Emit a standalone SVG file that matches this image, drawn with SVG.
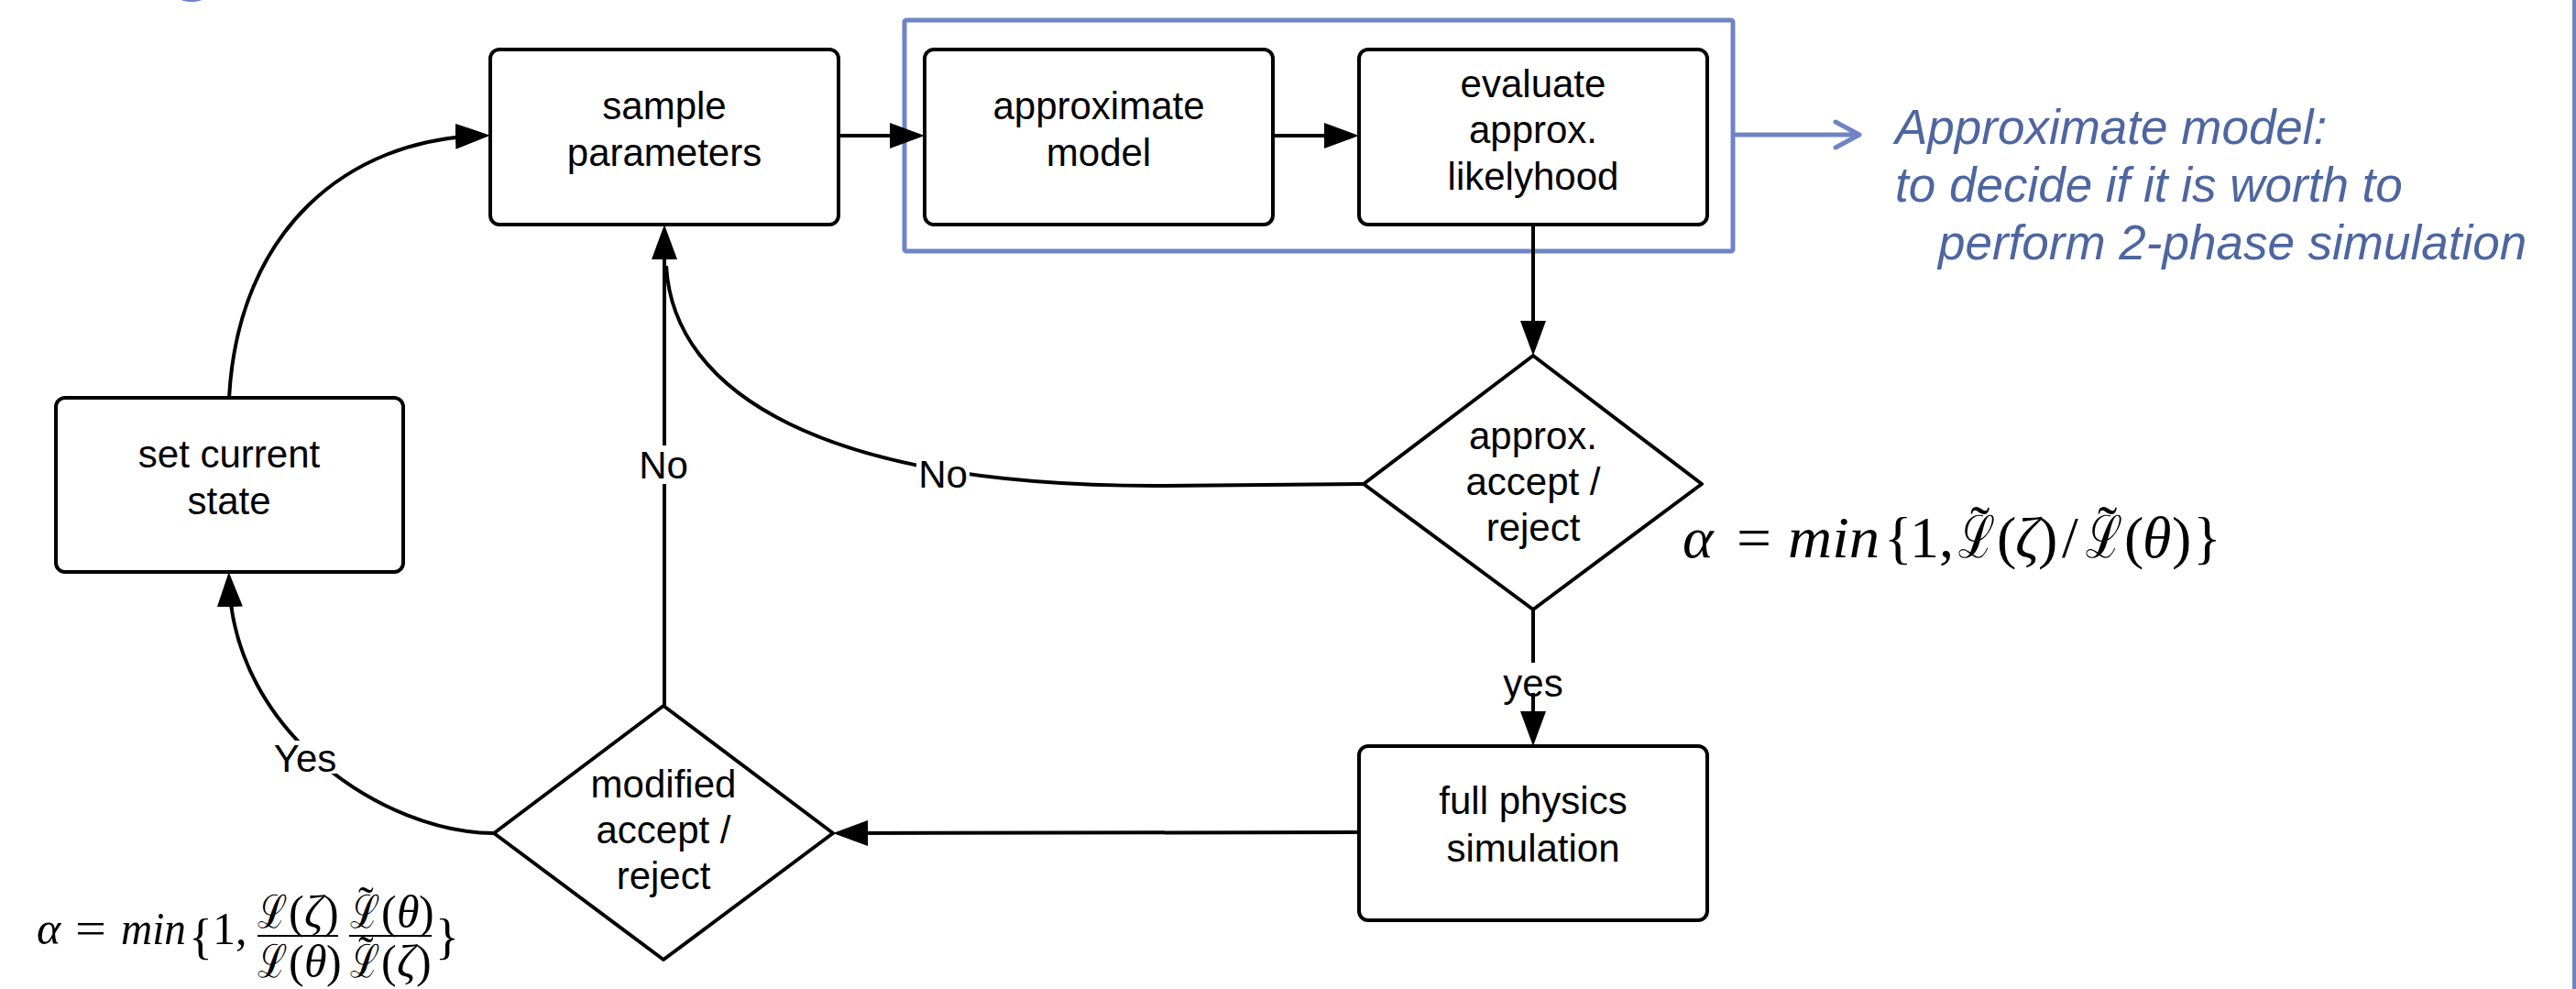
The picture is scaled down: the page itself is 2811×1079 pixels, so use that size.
<svg xmlns="http://www.w3.org/2000/svg" width="2811" height="1079" viewBox="0 0 2811 1079">
<style>
.box{fill:#fff;stroke:#000;stroke-width:4;stroke-linejoin:round}
.lbl{font-family:"Liberation Sans",Arial,sans-serif;font-size:42px;fill:#000;text-anchor:middle}
.con{fill:none;stroke:#000;stroke-width:4}
.blue{fill:none;stroke:#7084c4;stroke-width:5;stroke-linecap:round;stroke-linejoin:round}
.btxt{font-family:"Liberation Sans",Arial,sans-serif;font-size:53px;font-style:italic;fill:#4e66a0}
.math{font-family:"Liberation Serif","Times New Roman",serif;fill:#000}
.it{font-style:italic}
.cal{font-family:"DejaVu Serif","Noto Sans",serif}
.bg{fill:#fff}
</style>
<defs>
<marker id="ah" viewBox="0 0 38 28" refX="28" refY="14" markerWidth="38" markerHeight="28" markerUnits="userSpaceOnUse" orient="auto">
<path d="M0,0 L38,14 L0,28 z" fill="#000"/>
</marker>
</defs>
<rect width="2811" height="1079" fill="#fff"/>
<ellipse cx="209" cy="-1" rx="12" ry="3" fill="#7084c4"/>
<line x1="2809" y1="0" x2="2809" y2="1079" stroke="#7084c4" stroke-width="4"/>

<g id="approx-group">
<rect x="987" y="22" width="904" height="252" rx="2" class="blue"/>
<path d="M1893,147 L2027,147 M2003,133 L2029,147 L2003,161" class="blue"/>
<text class="btxt"><tspan x="2068" y="157">Approximate model:</tspan><tspan x="2068" y="220">to decide if it is worth to</tspan><tspan x="2115" y="283">perform 2-phase simulation</tspan></text>
</g>

<g id="connectors">
<path class="con" d="M250,434 C260,250 380,152 525,148" marker-end="url(#ah)"/>
<path class="con" d="M915,148 L999,148" marker-end="url(#ah)"/>
<path class="con" d="M1389,148 L1473,148" marker-end="url(#ah)"/>
<path class="con" d="M1673,245 L1673,378" marker-end="url(#ah)"/>
<path class="con" d="M1673,665 L1673,804" marker-end="url(#ah)"/>
<path class="con" d="M1483,908 L919,909" marker-end="url(#ah)"/>
<path class="con" d="M539,909 C420,909 255,800 250,634" marker-end="url(#ah)"/>
<path class="con" d="M725,770 L725,255" marker-end="url(#ah)"/>
<path class="con" d="M1488,528 L1260,530 C900,530 735,430 727,290"/>
<rect class="bg" x="696" y="486" width="58" height="42"/>
<text class="lbl" x="724" y="522">No</text>
<rect class="bg" x="1000" y="500" width="58" height="36"/>
<text class="lbl" x="1029" y="532">No</text>
<rect class="bg" x="1640" y="723" width="67" height="33"/>
<text class="lbl" x="1673" y="760">yes</text>
<rect class="bg" x="300" y="808" width="67" height="36"/>
<text class="lbl" x="333" y="842">Yes</text>
</g>

<g id="sample-parameters">
<rect class="box" x="535" y="54" width="380" height="191" rx="10"/>
<text class="lbl"><tspan x="725" y="130">sample</tspan><tspan x="725" y="181">parameters</tspan></text>
</g>
<g id="approximate-model">
<rect class="box" x="1009" y="54" width="380" height="191" rx="10"/>
<text class="lbl"><tspan x="1199" y="130">approximate</tspan><tspan x="1199" y="181">model</tspan></text>
</g>
<g id="evaluate-likelyhood">
<rect class="box" x="1483" y="54" width="380" height="191" rx="10"/>
<text class="lbl"><tspan x="1673" y="106">evaluate</tspan><tspan x="1673" y="156">approx.</tspan><tspan x="1673" y="207">likelyhood</tspan></text>
</g>
<g id="approx-accept-reject">
<polygon class="box" points="1673,388 1857,528 1673,665 1488,528"/>
<text class="lbl"><tspan x="1673" y="490">approx.</tspan><tspan x="1673" y="540">accept /</tspan><tspan x="1673" y="590">reject</tspan></text>
</g>
<g id="full-physics-simulation">
<rect class="box" x="1483" y="814" width="380" height="190" rx="10"/>
<text class="lbl"><tspan x="1673" y="888">full physics</tspan><tspan x="1673" y="940">simulation</tspan></text>
</g>
<g id="modified-accept-reject">
<polygon class="box" points="724,770 909,909 724,1047 539,909"/>
<text class="lbl"><tspan x="724" y="870">modified</tspan><tspan x="724" y="920">accept /</tspan><tspan x="724" y="970">reject</tspan></text>
</g>
<g id="set-current-state">
<rect class="box" x="61" y="434" width="379" height="190" rx="10"/>
<text class="lbl"><tspan x="250" y="510">set current</tspan><tspan x="250" y="561">state</tspan></text>
</g>

<g id="formula-approx" class="math" font-size="64">
<text y="608"><tspan class="it" x="1836">α</tspan><tspan x="1895" textLength="38" lengthAdjust="spacingAndGlyphs">=</tspan><tspan class="it" x="1951" textLength="100" lengthAdjust="spacingAndGlyphs">min</tspan><tspan x="2056">{</tspan><tspan x="2084">1,</tspan><tspan class="cal" x="2137" textLength="40" lengthAdjust="spacingAndGlyphs">ℒ</tspan><tspan x="2150" y="596">˜</tspan><tspan x="2179" y="608">(</tspan><tspan class="it" x="2199">ζ</tspan><tspan x="2224">)</tspan><tspan x="2250">/</tspan><tspan class="cal" x="2276" textLength="40" lengthAdjust="spacingAndGlyphs">ℒ</tspan><tspan x="2289" y="596">˜</tspan><tspan x="2318" y="608">(</tspan><tspan class="it" x="2338">θ</tspan><tspan x="2370">)</tspan><tspan x="2393">}</tspan></text>
</g>

<g id="formula-modified" class="math" font-size="50">
<text y="1030"><tspan class="it" x="40">α</tspan><tspan x="82" textLength="34" lengthAdjust="spacingAndGlyphs">=</tspan><tspan class="it" x="132" textLength="71" lengthAdjust="spacingAndGlyphs">min</tspan><tspan x="206" y="1040" font-size="54">{</tspan><tspan x="232" y="1030">1,</tspan><tspan x="475" y="1040" font-size="54">}</tspan></text>
<line x1="281" y1="1021" x2="369" y2="1021" stroke="#000" stroke-width="2"/>
<line x1="381" y1="1021" x2="471" y2="1021" stroke="#000" stroke-width="2"/>
<text y="1012"><tspan class="cal" x="281" textLength="32" lengthAdjust="spacingAndGlyphs">ℒ</tspan><tspan x="315">(</tspan><tspan class="it" x="332">ζ</tspan><tspan x="353">)</tspan><tspan class="cal" x="382" textLength="32" lengthAdjust="spacingAndGlyphs">ℒ</tspan><tspan x="391" y="1002">˜</tspan><tspan x="416" y="1012">(</tspan><tspan class="it" x="433">θ</tspan><tspan x="457">)</tspan></text>
<text y="1066"><tspan class="cal" x="281" textLength="32" lengthAdjust="spacingAndGlyphs">ℒ</tspan><tspan x="315">(</tspan><tspan class="it" x="332">θ</tspan><tspan x="356">)</tspan><tspan class="cal" x="382" textLength="32" lengthAdjust="spacingAndGlyphs">ℒ</tspan><tspan x="391" y="1056">˜</tspan><tspan x="416" y="1066">(</tspan><tspan class="it" x="433">ζ</tspan><tspan x="454">)</tspan></text>
</g>
</svg>
